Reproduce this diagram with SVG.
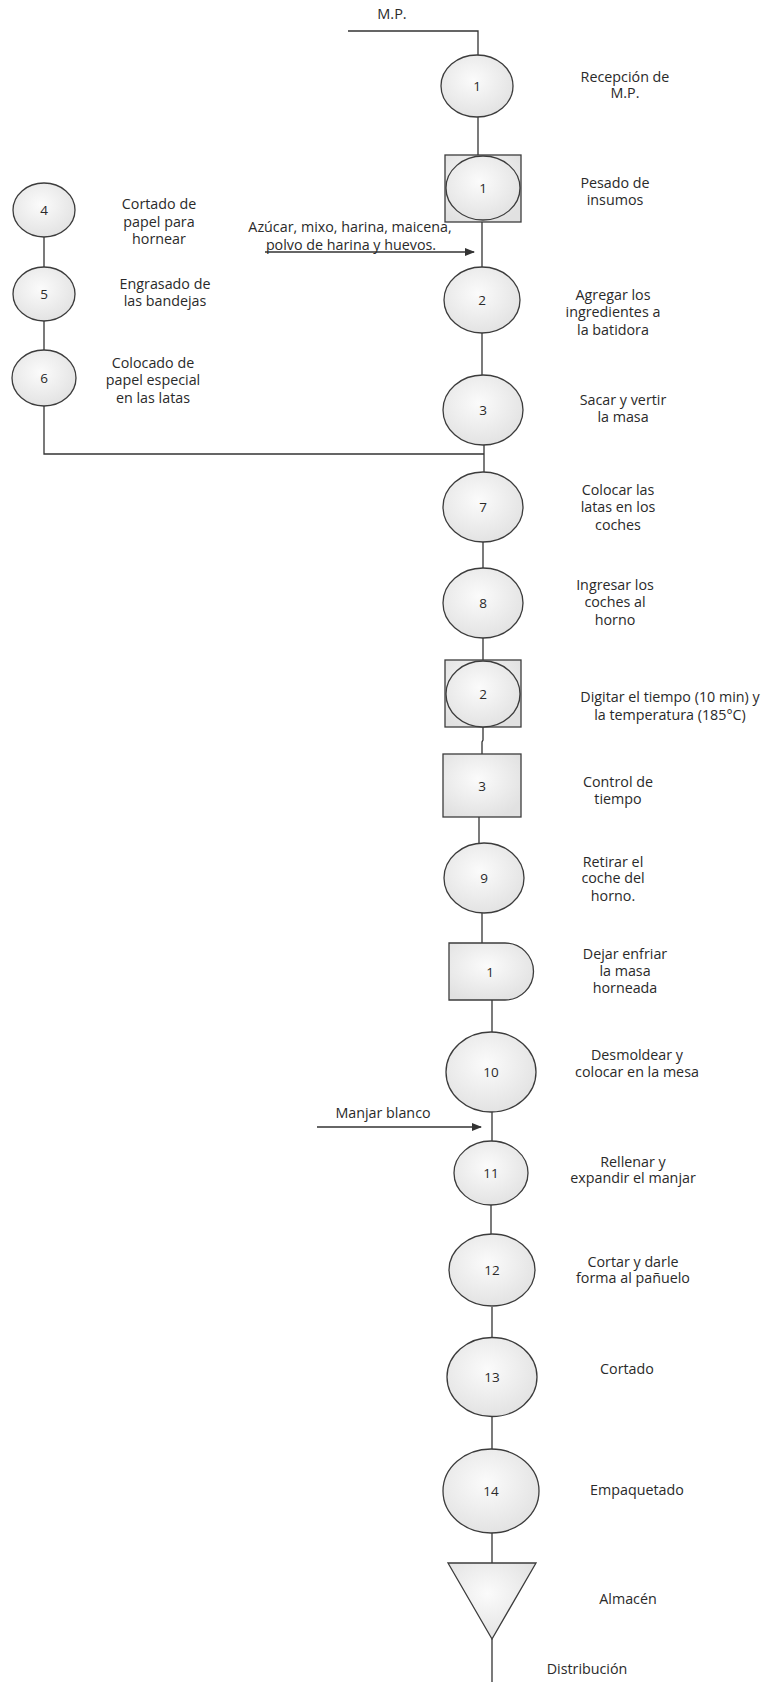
<svg xmlns="http://www.w3.org/2000/svg" width="773" height="1682" viewBox="0 0 773 1682">
<style>
.s{fill:url(#g);stroke:#3c3c3c;stroke-width:1.3}
.c{fill:none;stroke:#333;stroke-width:1.3}
.t{font-family:"Open Sans","Liberation Sans",sans-serif;font-size:14.3px;fill:#2a2a2a;text-anchor:middle}
.n{font-family:"Open Sans","Liberation Sans",sans-serif;font-size:13.5px;fill:#2a2a2a;text-anchor:middle}
</style>
<defs>
<radialGradient id="g" cx="0.45" cy="0.4" r="0.65">
<stop offset="0" stop-color="#fbfbfb"/>
<stop offset="1" stop-color="#e1e1e1"/>
</radialGradient>
<marker id="a" markerWidth="10" markerHeight="8" refX="9" refY="4" orient="auto" markerUnits="userSpaceOnUse">
<path d="M0,0 L10,4 L0,8 Z" fill="#333"/>
</marker>
</defs>
<rect width="773" height="1682" fill="#fff"/>
<g id="connectors">
<polyline class="c" points="348,31 478,31 478,55"/>
<line class="c" x1="478" y1="117" x2="478" y2="155"/>
<line class="c" x1="482" y1="222" x2="482" y2="267"/>
<line class="c" x1="482" y1="333" x2="482" y2="375"/>
<line class="c" x1="484" y1="445" x2="484" y2="472"/>
<line class="c" x1="483" y1="542" x2="483" y2="568"/>
<line class="c" x1="483" y1="637" x2="483" y2="660"/>
<polyline class="c" points="483,727 483,740 482,742 482,754"/>
<line class="c" x1="479" y1="817" x2="479" y2="844"/>
<line class="c" x1="482" y1="913" x2="482" y2="943"/>
<line class="c" x1="492" y1="1000" x2="492" y2="1032"/>
<line class="c" x1="492" y1="1111" x2="492" y2="1141"/>
<line class="c" x1="491" y1="1205" x2="491" y2="1234"/>
<line class="c" x1="492" y1="1307" x2="492" y2="1338"/>
<line class="c" x1="492" y1="1417" x2="492" y2="1449"/>
<line class="c" x1="492" y1="1533" x2="492" y2="1563"/>
<line class="c" x1="492" y1="1639" x2="492" y2="1682"/>
<line class="c" x1="44" y1="237" x2="44" y2="267"/>
<line class="c" x1="44" y1="321" x2="44" y2="350"/>
<polyline class="c" points="44,406 44,454 484,454"/>
<line class="c" x1="265" y1="252" x2="474" y2="252" marker-end="url(#a)"/>
<line class="c" x1="317" y1="1127" x2="481" y2="1127" marker-end="url(#a)"/>
</g>
<text class="t" x="392" y="19" style="font-size:14.5px">M.P.</text>
<g id="op1"><ellipse class="s" cx="477" cy="86" rx="36" ry="31"/><text class="n" x="477" y="90.5">1</text>
<text class="t" x="625" y="82">Recepción de</text><text class="t" x="625" y="98">M.P.</text></g>
<g id="comb1"><rect class="s" x="445" y="155" width="76" height="67"/><ellipse class="s" cx="483" cy="188" rx="37" ry="32"/><text class="n" x="483" y="192.5">1</text>
<text class="t" x="615" y="188">Pesado de</text><text class="t" x="615" y="205">insumos</text></g>
<g id="op4"><ellipse class="s" cx="44" cy="210" rx="31" ry="27"/><text class="n" x="44" y="214.5">4</text>
<text class="t" x="159" y="209">Cortado de</text><text class="t" x="159" y="227">papel para</text><text class="t" x="159" y="244">hornear</text></g>
<g id="op5"><ellipse class="s" cx="44" cy="294" rx="31" ry="27"/><text class="n" x="44" y="298.5">5</text>
<text class="t" x="165" y="289">Engrasado de</text><text class="t" x="165" y="306">las bandejas</text></g>
<g id="op6"><ellipse class="s" cx="44" cy="378" rx="32" ry="28"/><text class="n" x="44" y="382.5">6</text>
<text class="t" x="153" y="368">Colocado de</text><text class="t" x="153" y="385">papel especial</text><text class="t" x="153" y="403">en las latas</text></g>
<g id="input1"><text class="t" x="350" y="232">Azúcar, mixo, harina, maicena,</text><text class="t" x="351" y="250">polvo de harina y huevos.</text></g>
<g id="op2"><ellipse class="s" cx="482" cy="300" rx="38" ry="33"/><text class="n" x="482" y="304.5">2</text>
<text class="t" x="613" y="300">Agregar los</text><text class="t" x="613" y="317">ingredientes a</text><text class="t" x="613" y="335">la batidora</text></g>
<g id="op3"><ellipse class="s" cx="483" cy="410" rx="40" ry="35"/><text class="n" x="483" y="414.5">3</text>
<text class="t" x="623" y="405">Sacar y vertir</text><text class="t" x="623" y="422">la masa</text></g>
<g id="op7"><ellipse class="s" cx="483" cy="507" rx="40" ry="35"/><text class="n" x="483" y="511.5">7</text>
<text class="t" x="618" y="495">Colocar las</text><text class="t" x="618" y="512">latas en los</text><text class="t" x="618" y="530">coches</text></g>
<g id="op8"><ellipse class="s" cx="483" cy="603" rx="40" ry="35"/><text class="n" x="483" y="607.5">8</text>
<text class="t" x="615" y="590">Ingresar los</text><text class="t" x="615" y="607">coches al</text><text class="t" x="615" y="625">horno</text></g>
<g id="comb2"><rect class="s" x="445" y="660" width="76" height="67"/><ellipse class="s" cx="483" cy="694" rx="37" ry="33"/><text class="n" x="483" y="698.5">2</text>
<text class="t" x="670" y="702">Digitar el tiempo (10 min) y</text><text class="t" x="670" y="720">la temperatura (185°C)</text></g>
<g id="insp3"><rect class="s" x="443" y="754" width="78" height="63"/><text class="n" x="482" y="790.5">3</text>
<text class="t" x="618" y="787">Control de</text><text class="t" x="618" y="804">tiempo</text></g>
<g id="op9"><ellipse class="s" cx="484" cy="878" rx="40" ry="35"/><text class="n" x="484" y="882.5">9</text>
<text class="t" x="613" y="867">Retirar el</text><text class="t" x="613" y="883">coche del</text><text class="t" x="613" y="901">horno.</text></g>
<g id="delay1"><path class="s" d="M449,943 H505 A28.5,28.5 0 0 1 505,1000 H449 Z"/><text class="n" x="490" y="976.5">1</text>
<text class="t" x="625" y="959">Dejar enfriar</text><text class="t" x="625" y="976">la masa</text><text class="t" x="625" y="993">horneada</text></g>
<g id="op10"><ellipse class="s" cx="491" cy="1072" rx="45" ry="40"/><text class="n" x="491" y="1076.5">10</text>
<text class="t" x="637" y="1060">Desmoldear y</text><text class="t" x="637" y="1077">colocar en la mesa</text></g>
<g id="input2"><text class="t" x="383" y="1118">Manjar blanco</text></g>
<g id="op11"><ellipse class="s" cx="491" cy="1173" rx="37" ry="32"/><text class="n" x="491" y="1177.5">11</text>
<text class="t" x="633" y="1167">Rellenar y</text><text class="t" x="633" y="1183">expandir el manjar</text></g>
<g id="op12"><ellipse class="s" cx="492" cy="1270" rx="43" ry="36"/><text class="n" x="492" y="1274.5">12</text>
<text class="t" x="633" y="1267">Cortar y darle</text><text class="t" x="633" y="1283">forma al pañuelo</text></g>
<g id="op13"><ellipse class="s" cx="492" cy="1377" rx="45" ry="39.5"/><text class="n" x="492" y="1381.5">13</text>
<text class="t" x="627" y="1374">Cortado</text></g>
<g id="op14"><ellipse class="s" cx="491" cy="1491" rx="48" ry="42"/><text class="n" x="491" y="1495.5">14</text>
<text class="t" x="637" y="1495">Empaquetado</text></g>
<g id="storage"><polygon class="s" points="448,1563 536,1563 492,1639"/>
<text class="t" x="628" y="1604">Almacén</text></g>
<text class="t" x="587" y="1674">Distribución</text>
</svg>
